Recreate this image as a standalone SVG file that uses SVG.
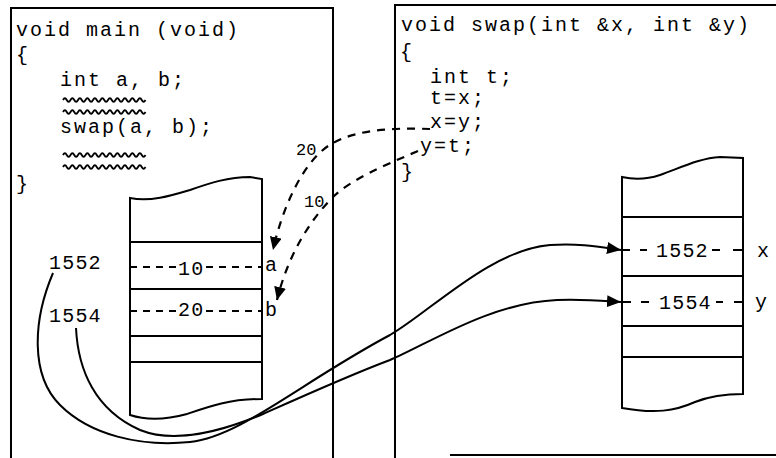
<svg xmlns="http://www.w3.org/2000/svg" width="776" height="458" viewBox="0 0 776 458">
<style>
.code{font-family:"Liberation Mono","DejaVu Sans Mono",monospace;font-size:20px;letter-spacing:2px;fill:#000}
.num{font-family:"Liberation Mono","DejaVu Sans Mono",monospace;font-size:20px;letter-spacing:1.2px;fill:#000}
.small{font-family:"Liberation Mono","DejaVu Sans Mono",monospace;font-size:17px;fill:#000}
.ln{fill:none;stroke:#000;stroke-width:2}
.wave{fill:none;stroke:#000;stroke-width:1.8}
.dash{fill:none;stroke:#000;stroke-width:2;stroke-dasharray:7 6}
.dashc{fill:none;stroke:#000;stroke-width:2.2;stroke-dasharray:8 7}
.stack{fill:#fff;stroke:#000;stroke-width:2}
</style>
<defs>
<marker id="ah" markerUnits="userSpaceOnUse" markerWidth="16" markerHeight="12" refX="14" refY="6" orient="auto"><path d="M0,0 L14,6 L0,12 z" fill="#000"/></marker>
<marker id="ahd" markerUnits="userSpaceOnUse" markerWidth="14" markerHeight="12" refX="13" refY="6" orient="auto"><path d="M0,0 L13,6 L0,12 z" fill="#000"/></marker>
</defs>
<rect width="776" height="458" fill="#fff"/>

<g id="main-box">
<path class="ln" d="M11,458 L11,8 L333,8 L333,458"/>
<text class="code" x="16" y="36">void main (void)</text>
<text class="code" x="16" y="61">{</text>
<text class="code" x="60" y="86">int a, b;</text>
<path class="wave" d="M63,100 q1.9,-3.5 3.75,0 t3.75,0 t3.75,0 t3.75,0 t3.75,0 t3.75,0 t3.75,0 t3.75,0 t3.75,0 t3.75,0 t3.75,0 t3.75,0 t3.75,0 t3.75,0 t3.75,0 t3.75,0 t3.75,0 t3.75,0 t3.75,0 t3.75,0 t3.75,0 t3.75,0"/>
<path class="wave" d="M63,112 q1.9,-3.5 3.75,0 t3.75,0 t3.75,0 t3.75,0 t3.75,0 t3.75,0 t3.75,0 t3.75,0 t3.75,0 t3.75,0 t3.75,0 t3.75,0 t3.75,0 t3.75,0 t3.75,0 t3.75,0 t3.75,0 t3.75,0 t3.75,0 t3.75,0 t3.75,0 t3.75,0"/>
<text class="code" x="60" y="133">swap(a, b);</text>
<path class="wave" d="M63,155 q1.9,-3.5 3.75,0 t3.75,0 t3.75,0 t3.75,0 t3.75,0 t3.75,0 t3.75,0 t3.75,0 t3.75,0 t3.75,0 t3.75,0 t3.75,0 t3.75,0 t3.75,0 t3.75,0 t3.75,0 t3.75,0 t3.75,0 t3.75,0 t3.75,0 t3.75,0 t3.75,0"/>
<path class="wave" d="M63,167 q1.9,-3.5 3.75,0 t3.75,0 t3.75,0 t3.75,0 t3.75,0 t3.75,0 t3.75,0 t3.75,0 t3.75,0 t3.75,0 t3.75,0 t3.75,0 t3.75,0 t3.75,0 t3.75,0 t3.75,0 t3.75,0 t3.75,0 t3.75,0 t3.75,0 t3.75,0 t3.75,0"/>
<text class="code" x="16" y="190">}</text>
</g>

<g id="swap-box">
<path class="ln" d="M395,458 L395,5 L776,5"/>
<path class="ln" d="M450,455 L776,455"/>
<text class="code" x="401" y="31">void swap(int &amp;x, int &amp;y)</text>
<text class="code" x="400" y="58">{</text>
<text class="code" x="430" y="83">int t;</text>
<text class="code" x="430" y="104">t=x;</text>
<text class="code" x="430" y="128">x=y;</text>
<text class="code" x="420" y="152">y=t;</text>
<text class="code" x="401" y="178">}</text>
</g>

<g id="main-stack">
<path class="stack" d="M130,198 C150,202 170,196 190,190 C210,183 228,177 250,177 L262,179 L262,399 C230,399 210,406 187,414 C165,420 145,420 130,415 Z"/>
<path class="ln" d="M130,242 L262,242 M130,289 L262,289 M130,336 L262,336 M130,362 L262,362"/>
<path class="dash" d="M130,267 L177,267 M206,267 L262,267"/>
<path class="dash" d="M130,311 L177,311 M206,311 L262,311"/>
<text class="num" x="178" y="275">10</text>
<text class="num" x="178" y="316">20</text>
<text class="num" x="265" y="271">a</text>
<text class="num" x="265" y="316">b</text>
<text class="num" x="49" y="269">1552</text>
<text class="num" x="49" y="322">1554</text>
</g>

<g id="swap-stack">
<path class="stack" d="M622,177 C635,180 648,179 660,175 C680,168 700,158 720,157 L743,158 L743,394 C725,394 710,396 695,402 C675,411 655,414 622,408 Z"/>
<path class="ln" d="M622,217 L743,217 M622,276 L743,276 M622,326 L743,326 M622,357 L743,357"/>
<path class="ln" d="M623,250 L630,250 M640,250 L647,250 M712,250 L720,250 M733,250 L742,250"/>
<path class="ln" d="M623,302 L631,302 M641,302 L649,302 M716,302 L723,302 M734,302 L742,302"/>
<text class="num" x="656" y="257">1552</text>
<text class="num" x="659" y="309">1554</text>
<text class="num" x="757" y="257">x</text>
<text class="num" x="755" y="308">y</text>
</g>

<g id="connectors">
<path class="ln" marker-end="url(#ah)" d="M53,273 C33,320 30,375 60,405 C90,435 140,447 190,442 C240,437 300,383 390,335 C430,312 490,250 550,245 C580,243 600,247 621,250"/>
<path class="ln" marker-end="url(#ah)" d="M76,328 C78,370 95,410 140,430 C175,444 220,432 263,414 C310,393 350,375 390,360 C430,343 490,303 557,300 C585,299 605,301 621,302"/>
<path class="dashc" marker-end="url(#ahd)" d="M430,129 C400,128 360,128 333,143 C305,158 283,205 273,250"/>
<path class="dashc" marker-end="url(#ahd)" d="M418,151 C385,165 350,180 333,197 C310,220 288,255 277,300"/>
<text class="small" x="296" y="155">20</text>
<text class="small" x="304" y="207">10</text>
</g>
</svg>
